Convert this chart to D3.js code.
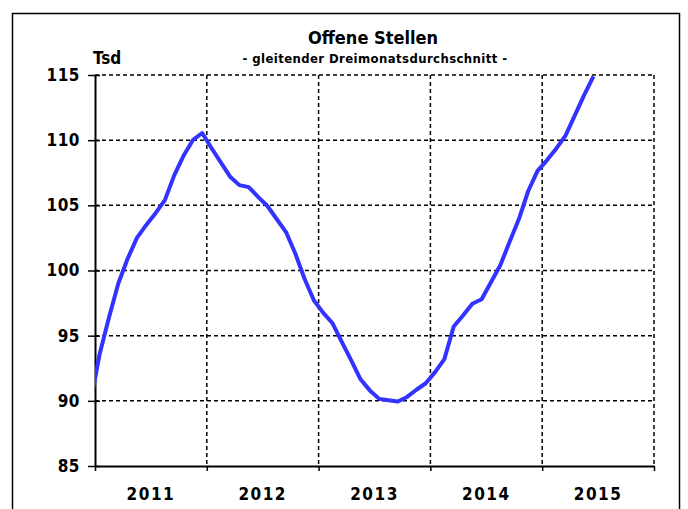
<!doctype html>
<html>
<head>
<style>
  body { margin: 0; background: #fff; }
  text { font-family: "Liberation Sans Narrow", "DejaVu Sans Condensed", sans-serif; font-weight: bold; fill: #000; }
</style>
<script src="https://d3js.org/d3.v7.min.js"></script>
</head>
<body>
<svg width="688" height="509"></svg>
<script>
// monthly values, Dec 2010 .. Jun 2015 (Tsd)
var values = [89.8,
  93.6, 96.4, 99.0, 100.9, 102.5, 103.5, 104.4, 105.4, 107.3, 108.8, 110.0, 110.55,
  109.4, 108.3, 107.2, 106.55, 106.4, 105.65, 104.95, 103.95, 102.95, 101.3, 99.35, 97.7,
  96.75, 95.95, 94.5, 93.1, 91.65, 90.8, 90.15, 90.05, 89.95, 90.3, 90.85, 91.35,
  92.2, 93.2, 95.7, 96.55, 97.45, 97.8, 99.1, 100.4, 102.2, 103.95, 106.1, 107.65,
  108.45, 109.35, 110.35, 111.9, 113.45, 114.9];
var firstMonth = -1;   // Dec 2010, months counted from Jan 2011
var years = ["2011", "2012", "2013", "2014", "2015"];
var yTicks = [85, 90, 95, 100, 105, 110, 115];

var svg = d3.select("svg");
var pl = 95, pr = 654, pt = 75, pb = 466;

var x = d3.scaleLinear().domain([0, 60]).range([pl, pr]);
var y = d3.scaleLinear().domain([85, 115]).range([pb, pt]);

// outer frame
svg.append("rect")
   .attr("x", 12.5).attr("y", 13.5)
   .attr("width", 667).attr("height", 520)
   .attr("fill", "none").attr("stroke", "#000").attr("stroke-width", 1.5);

svg.append("text")
   .attr("x", 373).attr("y", 44)
   .attr("text-anchor", "middle").attr("font-size", "18px")
   .text("Offene Stellen");
svg.append("text")
   .attr("x", 375).attr("y", 63)
   .attr("text-anchor", "middle").attr("font-size", "13px")
   .attr("letter-spacing", "0.4px")
   .text("- gleitender Dreimonatsdurchschnitt -");
svg.append("text")
   .attr("x", 93).attr("y", 64)
   .attr("font-size", "17px")
   .text("Tsd");

// gridlines
var grid = svg.append("g").attr("stroke", "#000").attr("stroke-width", 1.5).attr("stroke-dasharray", "4,3");
grid.selectAll(".h").data(yTicks.slice(1)).enter().append("line")
    .attr("x1", pl).attr("x2", pr)
    .attr("y1", function(d) { return y(d); }).attr("y2", function(d) { return y(d); });
grid.selectAll(".v").data(years).enter().append("line")
    .attr("x1", function(d, i) { return x((i + 1) * 12); })
    .attr("x2", function(d, i) { return x((i + 1) * 12); })
    .attr("y1", pt).attr("y2", pb);

// axes
var yAxis = svg.append("g")
   .attr("transform", "translate(" + pl + ",0)")
   .call(d3.axisLeft(y).tickValues(yTicks).tickSizeInner(7).tickSizeOuter(0).tickPadding(8));
var xAxis = svg.append("g")
   .attr("transform", "translate(0," + pb + ")")
   .call(d3.axisBottom(x).tickValues([0, 12, 24, 36, 48, 60]).tickFormat("").tickSizeInner(5).tickSizeOuter(0));
[yAxis, xAxis].forEach(function(a) {
    a.select(".domain").attr("stroke", "#000").attr("stroke-width", 2);
    a.selectAll(".tick line").attr("stroke", "#000").attr("stroke-width", 1.5);
    a.selectAll("text").attr("font-size", "17px").attr("font-family", null).attr("fill", "#000");
});
yAxis.selectAll(".tick line").attr("x1", 5);
yAxis.selectAll(".tick text").attr("letter-spacing", "0.5px");

svg.append("g").selectAll("text").data(years).enter().append("text")
   .attr("x", function(d, i) { return x(i * 12 + 6); })
   .attr("y", 500)
   .attr("text-anchor", "middle").attr("font-size", "17px")
   .attr("letter-spacing", "1.5px")
   .text(function(d) { return d; });

// line, clipped to the plot
svg.append("clipPath").attr("id", "plot")
   .append("rect").attr("x", pl).attr("y", 0).attr("width", pr - pl).attr("height", pb);

var line = d3.line()
   .x(function(d, i) { return x(firstMonth + i + 0.5); })
   .y(function(d) { return y(d); });

svg.append("path")
   .datum(values)
   .attr("clip-path", "url(#plot)")
   .attr("fill", "none")
   .attr("stroke", "#3333ff")
   .attr("stroke-width", 4)
   .attr("stroke-linejoin", "round")
   .attr("d", line);
</script>
</body>
</html>
